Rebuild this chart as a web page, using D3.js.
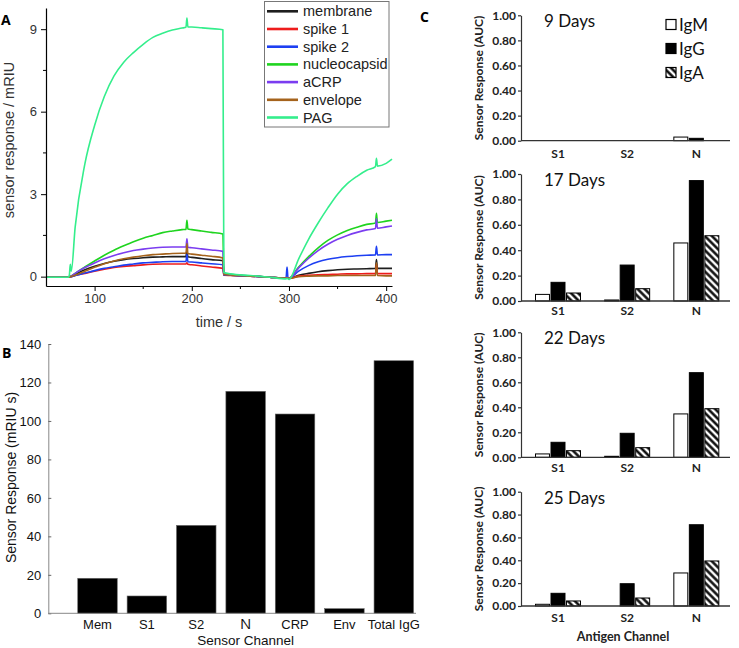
<!DOCTYPE html>
<html><head><meta charset="utf-8">
<script src="https://cdn.jsdelivr.net/npm/d3@7"></script>
<style>body{margin:0;background:#fff}svg{display:block}</style>
</head><body>
<svg id="c" width="739" height="648"></svg>
<script>
// ---------- Panel A data ----------
const times = [50,73,74,75,76,80,90,100,110,120,130,140,150,160,170,180,190,194,195,196,200,210,220,232,233,240,260,280,297,298,299,300,310,320,330,340,350,360,370,380,389,390,391,400,406];
const membrane = [-0.02,-0.02,-0.02,0,0.01,0.08,0.25,0.38,0.48,0.56,0.62,0.66,0.69,0.71,0.72,0.73,0.73,0.73,0.95,0.72,0.7,0.66,0.62,0.58,0.07,0.05,0.02,-0.02,-0.05,-0.04,-0.05,-0.06,0.05,0.12,0.18,0.22,0.25,0.27,0.28,0.29,0.3,0.62,0.3,0.3,0.3];
const spike1 = [-0.02,-0.02,-0.02,0,0,0.04,0.12,0.2,0.27,0.33,0.37,0.4,0.43,0.45,0.46,0.46,0.46,0.46,0.5,0.45,0.43,0.39,0.35,0.3,0.05,0.04,0.02,-0.02,-0.05,-0.04,-0.05,-0.06,0.02,0.05,0.07,0.08,0.09,0.1,0.1,0.11,0.11,0.45,0.11,0.11,0.11];
const spike2 = [-0.02,-0.02,-0.02,0,0,0.04,0.13,0.22,0.3,0.36,0.42,0.46,0.5,0.52,0.54,0.55,0.55,0.55,0.82,0.54,0.53,0.5,0.47,0.43,0.06,0.05,0.02,-0.02,-0.05,0.35,-0.05,-0.06,0.2,0.4,0.54,0.63,0.69,0.73,0.76,0.78,0.79,1.1,0.79,0.8,0.8];
const nucleocapsid = [-0.02,-0.02,-0.02,0,0.02,0.12,0.35,0.57,0.78,0.96,1.12,1.27,1.4,1.5,1.6,1.66,1.71,1.72,2.05,1.73,1.71,1.66,1.61,1.55,0.12,0.08,0.03,-0.02,-0.05,-0.04,-0.05,-0.06,0.35,0.72,1.05,1.32,1.52,1.68,1.8,1.9,1.95,2.3,1.97,2.02,2.05];
const aCRP = [-0.02,-0.02,-0.02,0,0.02,0.12,0.33,0.5,0.65,0.77,0.87,0.95,1.0,1.04,1.07,1.08,1.08,1.08,1.38,1.07,1.05,1.01,0.97,0.92,0.1,0.07,0.03,-0.02,-0.05,-0.04,-0.05,-0.06,0.32,0.66,0.95,1.18,1.36,1.5,1.61,1.7,1.75,2.1,1.76,1.81,1.84];
const envelope = [-0.02,-0.02,-0.02,0,0.01,0.05,0.2,0.34,0.47,0.57,0.65,0.71,0.76,0.8,0.82,0.84,0.85,0.85,1.2,0.84,0.82,0.78,0.74,0.68,0.08,0.06,0.02,-0.02,-0.05,-0.04,-0.05,-0.06,0,0.02,0.03,0.03,0.04,0.04,0.04,0.04,0.04,0.5,0.04,0.03,0.03];
const PAG = [-0.02,-0.02,0.05,0.45,0.2,1.8,4.1,5.5,6.55,7.3,7.8,8.15,8.45,8.7,8.85,8.97,9.04,9.07,9.4,9.08,9.08,9.05,9.02,8.98,0.15,0.1,0.04,-0.02,-0.08,-0.06,-0.08,-0.1,0.65,1.35,1.95,2.5,3.0,3.38,3.65,3.87,4.0,4.3,4.02,4.12,4.27];
const seriesNames = ["membrane","spike 1","spike 2","nucleocapsid","aCRP","envelope","PAG"];
const seriesValues = [membrane, spike1, spike2, nucleocapsid, aCRP, envelope, PAG];
const timeTicks = [100,200,300,400];
const timeMinorTicks = [150,250,350];
const responseTicks = [0,3,6,9];
const responseMinorTicks = [1.5,4.5,7.5];

// ---------- Panel B data ----------
const channelsB = ["Mem","S1","S2","N","CRP","Env","Total IgG"];
const responseB = [18.2,9.0,45.7,115.4,103.6,2.4,131.3];
const ticksB = [0,20,40,60,80,100,120,140];

// ---------- Panel C data ----------
const antigens = ["S1","S2","N"];
const isotypes = ["IgM","IgG","IgA"];
const dayLabels = ["9 Days","17 Days","22 Days","25 Days"];
const igM = [[0,0,0.029],[0.052,0.008,0.457],[0.027,0.008,0.347],[0.015,0,0.289]];
const igG = [[0,0,0.019],[0.147,0.283,0.948],[0.12,0.192,0.677],[0.111,0.195,0.711]];
const igA = [[0,0,0],[0.063,0.097,0.514],[0.053,0.077,0.389],[0.044,0.07,0.394]];
const ticksC = [0,0.2,0.4,0.6,0.8,1.0];

// ---------- Styles ----------
const colors = ["#1e1e1e","#ee1c1c","#1d3ff2","#1fd41f","#7b3df0","#a5631c","#34ee8c"];
const sansA = "'Liberation Sans', Arial, sans-serif";
const sansC = "Lato, 'Open Sans', sans-serif";

const svg = d3.select("#c");
const defs = svg.append("defs");
const pat = defs.append("pattern").attr("id","hatch").attr("patternUnits","userSpaceOnUse")
  .attr("width",5).attr("height",5).attr("patternTransform","rotate(-45)");
pat.append("rect").attr("width",5).attr("height",5).attr("fill","#fff");
pat.append("line").attr("x1",1.5).attr("x2",1.5).attr("y1",0).attr("y2",5).attr("stroke","#000").attr("stroke-width",2.4);

// ================= Panel A =================
{
  const g = svg.append("g");
  const x = d3.scaleLinear().domain([50,406]).range([46,392]);
  const y = d3.scaleLinear().domain([-0.34,9.77]).range([286,8]);
  const line = d3.line().x((d,i)=>x(times[i])).y(d=>y(d)).curve(d3.curveMonotoneX);
  seriesValues.forEach((vals,k)=>{
    g.append("path").attr("d",line(vals)).attr("fill","none")
      .attr("stroke",colors[k]).attr("stroke-width",1.6).attr("stroke-linejoin","round");
  });
  const xAx = g.append("g").attr("transform","translate(0,286)")
    .call(d3.axisBottom(x).tickValues(timeTicks).tickSize(5).tickSizeOuter(0).tickPadding(3));
  xAx.append("g").selectAll("line").data(timeMinorTicks).join("line")
    .attr("x1",d=>x(d)).attr("x2",d=>x(d)).attr("y1",0).attr("y2",3).attr("stroke","#000");
  const yAx = g.append("g").attr("transform","translate(46,0)")
    .call(d3.axisLeft(y).tickValues(responseTicks).tickSize(5).tickSizeOuter(0).tickPadding(4));
  yAx.append("g").selectAll("line").data(responseMinorTicks).join("line")
    .attr("y1",d=>y(d)).attr("y2",d=>y(d)).attr("x1",0).attr("x2",-3).attr("stroke","#000");
  [xAx,yAx].forEach(a=>{
    a.selectAll("text").attr("font-family",sansA).attr("font-size",13).attr("fill","#333");
    a.select(".domain").attr("stroke","#000").attr("stroke-width",1.2);
  });
  g.append("text").attr("x",219).attr("y",327).attr("text-anchor","middle")
    .attr("font-family",sansA).attr("font-size",14.5).attr("fill","#333").text("time / s");
  g.append("text").attr("transform","translate(14,140) rotate(-90)").attr("text-anchor","middle")
    .attr("font-family",sansA).attr("font-size",14.5).attr("fill","#333").text("sensor response / mRIU");
  g.append("text").attr("x",1).attr("y",25).attr("font-family","'Open Sans', sans-serif")
    .attr("font-weight","bold").attr("font-size",14).text("A");
  // legend
  const lg = g.append("g");
  lg.append("rect").attr("x",264.5).attr("y",1.5).attr("width",124.5).attr("height",125.5)
    .attr("fill","#fff").attr("stroke","#777").attr("stroke-width",1);
  seriesNames.forEach((n,k)=>{
    const cy = 11.3 + k*17.7;
    lg.append("line").attr("x1",267).attr("x2",298).attr("y1",cy).attr("y2",cy)
      .attr("stroke",colors[k]).attr("stroke-width",2.6);
    lg.append("text").attr("x",303).attr("y",cy+5).attr("font-family",sansA)
      .attr("font-size",14.5).attr("fill","#222").text(n);
  });
}

// ================= Panel B =================
{
  const g = svg.append("g");
  const x = d3.scaleBand().domain(channelsB).range([72.8,418.5]).paddingInner(0.2).paddingOuter(0.1);
  const y = d3.scaleLinear().domain([0,140]).range([613.3,344]);
  g.selectAll("rect.bar").data(channelsB).join("rect").attr("class","bar")
    .attr("x",d=>x(d)).attr("width",x.bandwidth())
    .attr("y",(d,i)=>y(responseB[i])).attr("height",(d,i)=>y(0)-y(responseB[i]))
    .attr("fill","#000").attr("stroke","#666").attr("stroke-width",0.6);
  const yAx = g.append("g").attr("transform","translate(48.3,0)")
    .call(d3.axisLeft(y).tickValues(ticksB).tickSize(-3).tickSizeOuter(0).tickPadding(7));
  yAx.selectAll("text").attr("font-family",sansA).attr("font-size",13).attr("fill","#111");
  yAx.selectAll(".tick line").attr("stroke","#666");
  yAx.select(".domain").attr("stroke","#888");
  g.append("line").attr("x1",48.3).attr("x2",416).attr("y1",613.3).attr("y2",613.3).attr("stroke","#888");
  channelsB.forEach(c=>{
    const isN = c==="N";
    g.append("text").attr("x",x(c)+x.bandwidth()/2).attr("y",isN?628.5:629)
      .attr("text-anchor","middle")
      .attr("font-family",isN?"'Open Sans', sans-serif":sansA)
      .attr("font-size",isN?15:13).attr("fill","#111").text(c);
  });
  g.append("text").attr("x",245.7).attr("y",644.5).attr("text-anchor","middle")
    .attr("font-family",sansA).attr("font-size",13.5).attr("fill","#111").text("Sensor Channel");
  g.append("text").attr("transform","translate(16,477.5) rotate(-90)").attr("text-anchor","middle")
    .attr("font-family",sansA).attr("font-size",14).attr("fill","#111").text("Sensor Response (mRIU s)");
  g.append("text").attr("x",2).attr("y",358).attr("font-family","'Open Sans', sans-serif")
    .attr("font-weight","bold").attr("font-size",14).text("B");
}

// ================= Panel C =================
{
  const panels = [{y0:140.7,y1:15.3,lab:158},{y0:301,y1:174,lab:315},{y0:457.3,y1:332.3,lab:471.5},{y0:606,y1:491.7,lab:621.5}];
  const axX = 521, axR = 730;
  const x0 = d3.scaleBand().domain(antigens).range([523.5,731]);
  const x1 = d3.scaleBand().domain(isotypes).range([12,57]).paddingInner(0.1);
  const fills = {IgM:"#fff",IgG:"#000",IgA:"url(#hatch)"};
  const vals = {IgM:igM, IgG:igG, IgA:igA};
  svg.append("text").attr("x",420).attr("y",22).attr("font-family","'Open Sans', sans-serif")
    .attr("font-weight","bold").attr("font-size",14).text("C");
  panels.forEach((p,pi)=>{
    const g = svg.append("g");
    const y = d3.scaleLinear().domain([0,1]).range([p.y0,p.y1]);
    antigens.forEach((a,ai)=>{
      isotypes.forEach(iso=>{
        const v = vals[iso][pi][ai];
        if (v<=0) return;
        g.append("rect").attr("x",x0(a)+x1(iso)).attr("width",x1.bandwidth())
          .attr("y",y(v)).attr("height",y(0)-y(v))
          .attr("fill",fills[iso]).attr("stroke","#000").attr("stroke-width",1);
      });
    });
    const yAx = g.append("g").attr("transform",`translate(${axX},0)`)
      .call(d3.axisLeft(y).tickValues(ticksC).tickFormat(d3.format(".2f")).tickSize(3).tickSizeOuter(0).tickPadding(2));
    yAx.selectAll("text").attr("font-family",sansC).attr("font-weight","bold").attr("font-size",12).attr("fill","#222");
    yAx.selectAll("line,path").attr("stroke","#333").attr("stroke-width",1.2);
    g.append("line").attr("x1",axX).attr("x2",axR).attr("y1",p.y0).attr("y2",p.y0)
      .attr("stroke","#333").attr("stroke-width",1.3);
    antigens.forEach(a=>{
      g.append("text").attr("x",x0(a)+x0.bandwidth()/2).attr("y",p.lab).attr("text-anchor","middle")
        .attr("font-family",sansC).attr("font-weight","bold").attr("font-size",12).attr("fill","#222").text(a);
    });
    g.append("text").attr("x",544).attr("y",p.y1+12).attr("font-family",sansC)
      .attr("font-size",17).attr("fill","#111").text(dayLabels[pi]);
    g.append("text").attr("transform",`translate(483,${(p.y0+p.y1)/2}) rotate(-90)`).attr("text-anchor","middle")
      .attr("font-family",sansC).attr("font-weight","bold").attr("font-size",12).attr("fill","#222")
      .text("Sensor Response (AUC)");
    if (pi===0){
      isotypes.forEach((iso,k)=>{
        const cy = 25 + k*24;
        g.append("rect").attr("x",666).attr("y",cy-5.5).attr("width",10).attr("height",10)
          .attr("fill",fills[iso]).attr("stroke","#000").attr("stroke-width",1.2);
        g.append("text").attr("x",679).attr("y",cy+5.5).attr("font-family",sansC)
          .attr("font-size",17).attr("fill","#111").text(iso);
      });
    }
  });
  svg.append("text").attr("x",623).attr("y",641).attr("text-anchor","middle")
    .attr("font-family",sansC).attr("font-weight","bold").attr("font-size",12.5).attr("fill","#222").text("Antigen Channel");
}
</script>
</body></html>
